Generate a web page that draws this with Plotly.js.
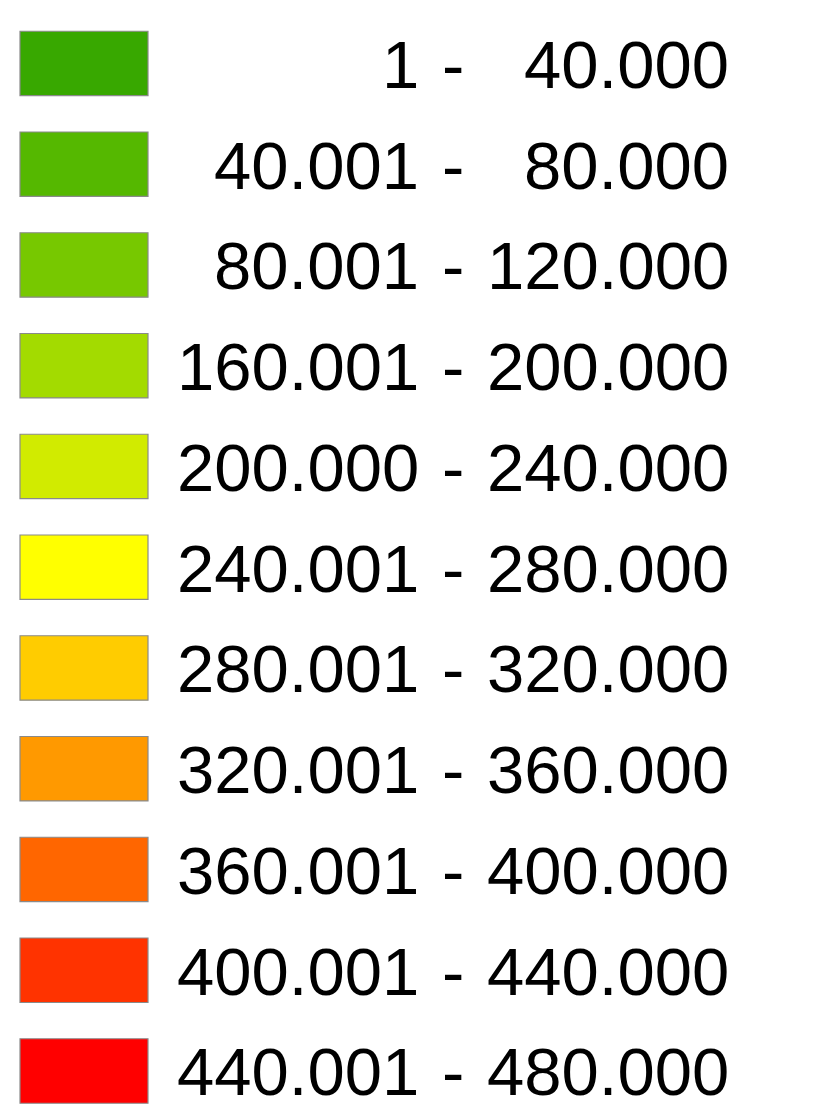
<!DOCTYPE html>
<html>
<head>
<meta charset="utf-8">
<script src="https://cdn.plot.ly/plotly-3.0.1.min.js"></script>
<style>html,body{margin:0;padding:0;background:#fff;}#chart{width:837px;height:1113px;}</style>
</head>
<body>
<div id="chart"></div>
<script>
const lowValues = ["1", "40.001", "80.001", "160.001", "200.000", "240.001", "280.001", "320.001", "360.001", "400.001", "440.001"];
const highValues = ["40.000", "80.000", "120.000", "200.000", "240.000", "280.000", "320.000", "360.000", "400.000", "440.000", "480.000"];
const colors = ["#38A800", "#55B800", "#77C800", "#A3DB00", "#D1EB00", "#FFFF00", "#FFCC00", "#FF9900", "#FF6600", "#FF3300", "#FF0000"];

const idx = lowValues.map((_, i) => i);
const FONT = {family: "Liberation Sans, Arial, sans-serif", size: 67, color: "#000"};

const trace = {
  type: "bar",
  orientation: "h",
  y: idx,
  x: idx.map(() => 128),
  base: idx.map(() => 20),
  width: 0.64,
  marker: {color: colors, line: {color: "#8a8a8a", width: 1.2}},
  hoverinfo: "skip",
  showlegend: false
};

const annotations = [];
idx.forEach(i => {
  annotations.push({xref: "x", yref: "y", x: 421, y: i, text: lowValues[i], showarrow: false, xanchor: "right", yanchor: "middle", font: FONT, yshift: -1});
  annotations.push({xref: "x", yref: "y", x: 453, y: i, text: "-", showarrow: false, xanchor: "center", yanchor: "middle", font: FONT, yshift: -1});
  annotations.push({xref: "x", yref: "y", x: 731, y: i, text: highValues[i], showarrow: false, xanchor: "right", yanchor: "middle", font: FONT, yshift: -1});
});

const layout = {
  width: 837, height: 1113,
  margin: {l: 0, r: 0, t: 0, b: 0, pad: 0},
  paper_bgcolor: "#fff", plot_bgcolor: "#fff",
  xaxis: {range: [0, 837], visible: false, fixedrange: true},
  yaxis: {range: [10.417, -0.630], visible: false, fixedrange: true},
  annotations: annotations,
  showlegend: false
};

Plotly.newPlot("chart", [trace], layout, {staticPlot: true, displayModeBar: false});
</script>
</body>
</html>
